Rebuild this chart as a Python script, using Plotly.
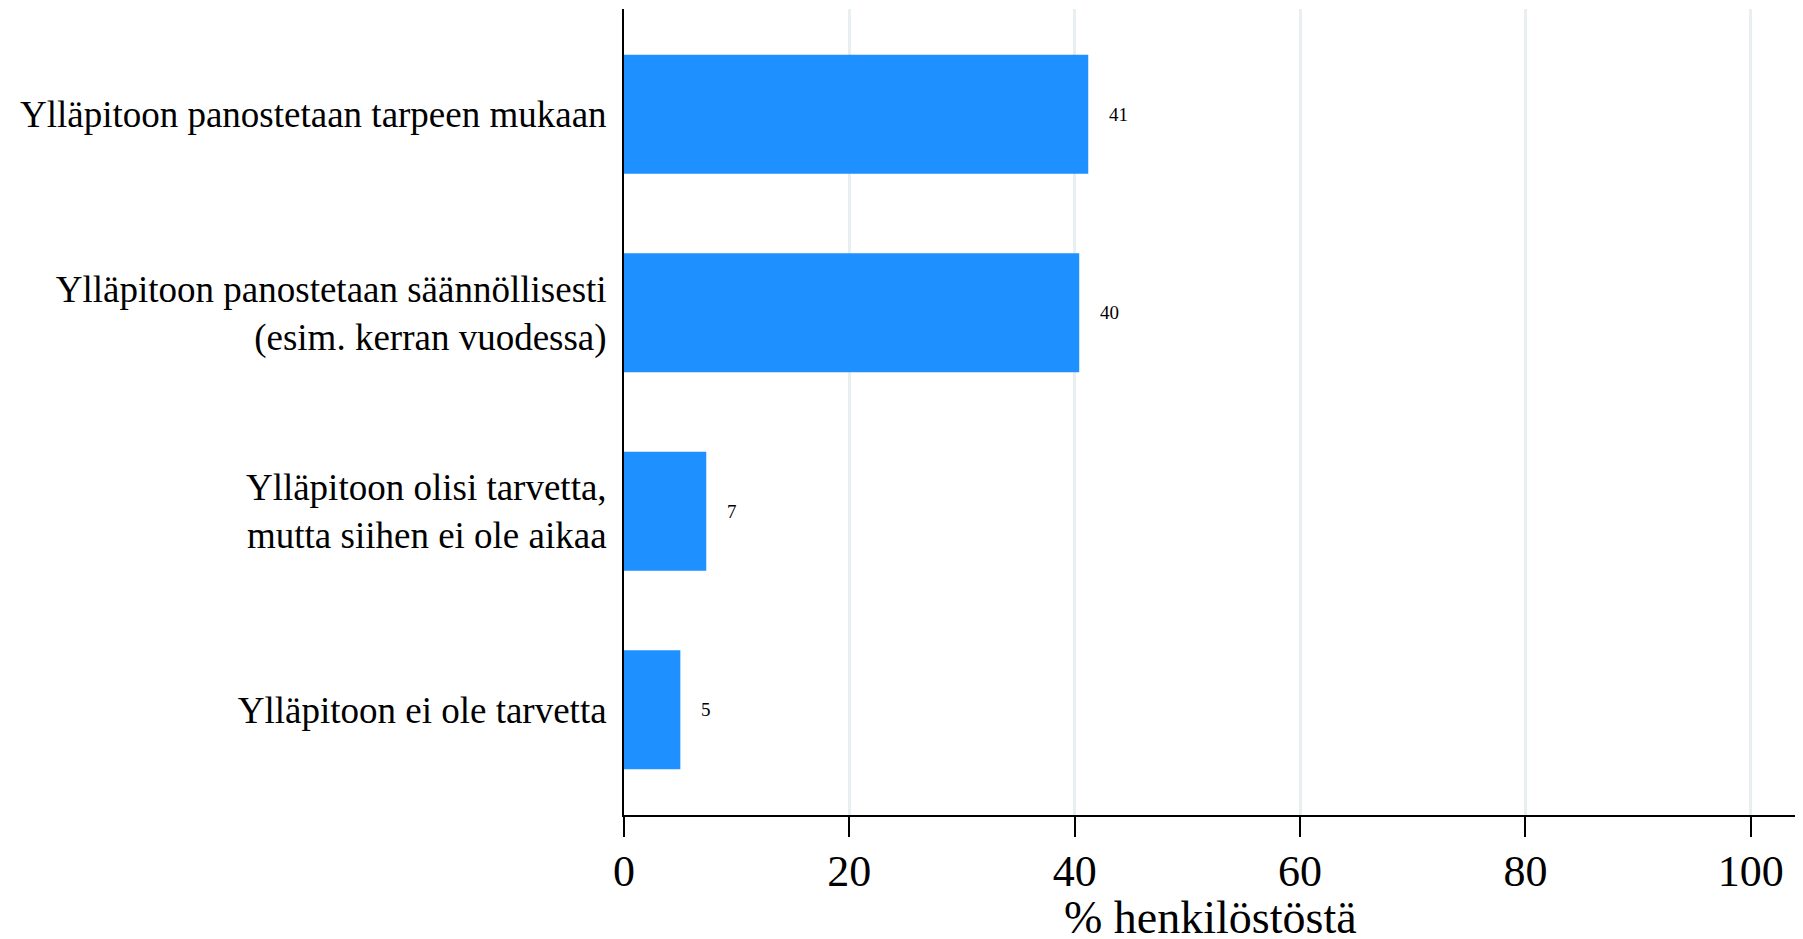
import plotly.graph_objects as go

categories = [
    "Ylläpitoon panostetaan tarpeen mukaan",
    "Ylläpitoon panostetaan säännöllisesti<br>(esim. kerran vuodessa)",
    "Ylläpitoon olisi tarvetta,<br>mutta siihen ei ole aikaa",
    "Ylläpitoon ei ole tarvetta",
]
values = [41.2, 40.4, 7.3, 5.0]
value_labels = ["41", "40", "7", "5"]
x_ticks = [0, 20, 40, 60, 80, 100]
x_title = "% henkilöstöstä"

serif = "Liberation Serif"

fig = go.Figure(go.Bar(
    x=values,
    y=categories,
    orientation="h",
    marker_color="#1E90FF",
    marker_line_width=0,
))

for v, c, lab in zip(values, categories, value_labels):
    fig.add_annotation(x=v, y=c, text=lab, showarrow=False,
                       xanchor="left", xshift=19,
                       font=dict(family=serif, size=19, color="black"))

# axis title placed as annotation to keep it inside the page
fig.add_annotation(x=0.5, xref="x domain", y=0, yref="paper",
                   yanchor="middle", yshift=-102, showarrow=False,
                   text=x_title, font=dict(family=serif, size=46, color="black"))

fig.update_layout(
    width=1803, height=939,
    margin=dict(l=616, r=14, t=1, b=132),
    plot_bgcolor="white", paper_bgcolor="white",
    bargap=0.4,
    showlegend=False,
    font=dict(family=serif, color="black"),
)
fig.update_xaxes(
    range=[0, 104.1],
    tickvals=x_ticks,
    tickfont=dict(size=44),
    ticks="outside", ticklen=20, tickwidth=2, tickcolor="black",
    ticklabelstandoff=-4,
    showline=True, linecolor="black", linewidth=2,
    showgrid=True, gridcolor="#e8eff1", gridwidth=3,
    zeroline=False, automargin=False,
)
fig.update_yaxes(
    range=[3.53, -0.53],
    tickfont=dict(size=37),
    ticks="", ticklabelstandoff=8,
    showline=True, linecolor="black", linewidth=2,
    showgrid=False, zeroline=False, automargin=False,
)

fig.write_html("out.html")
